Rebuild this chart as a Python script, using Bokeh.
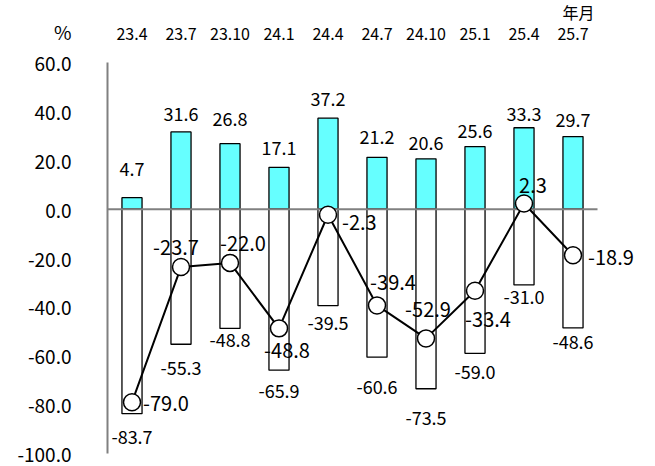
from bokeh.plotting import figure
from bokeh.models import Range1d, FixedTicker, LinearAxis
from bokeh.core.properties import value
from bokeh.embed import file_html
from bokeh.resources import INLINE

# ---- data ----
categories = ["23.4", "23.7", "23.10", "24.1", "24.4", "24.7", "24.10", "25.1", "25.4", "25.7"]
positive = [4.7, 31.6, 26.8, 17.1, 37.2, 21.2, 20.6, 25.6, 33.3, 29.7]
negative = [-83.7, -55.3, -48.8, -65.9, -39.5, -60.6, -73.5, -59.0, -31.0, -48.6]
net = [-79.0, -23.7, -22.0, -48.8, -2.3, -39.4, -52.9, -33.4, 2.3, -18.9]
y_ticks = [-100, -80, -60, -40, -20, 0, 20, 40, 60]
unit_label = "%"
period_label = "年月"

# ---- label placement (screen pixels, + = down / right) ----
pos_gap = [29, 18, 25, 19, 19, 20, 16, 16, 14, 17]      # above bar top
neg_gap = [23, 24, 12, 21, 17, 30, 29, 19, 12, 14]      # below bar bottom
net_dx = [11, -5, 13, 8, 14, 16, 2, 13, 9, 15]
net_dy = [1, -20, -19, 22, 8, -23, -29, 29, -18, 2]
net_align = ["left", "center", "center", "center", "left", "center", "center", "center", "center", "left"]

FONT = "Noto Sans CJK JP"
W, H = 655, 466
B_LEFT = 107
Y0, Y1 = -100, 60
TOP_PX = 62                      # canvas px where y = Y1 sits
AXIS_PX = 391                    # px from Y1 to Y0
SY = AXIS_PX / (Y1 - Y0)         # px per unit (y)
SX = 49                          # px per category
CAT_ROW_PX = 29                  # category row distance above y = Y1
UNIT_ROW_PX = 31                 # unit label distance above y = Y1

n = len(categories)
xs = list(range(n))

x_start = -0.5
x_end = x_start + (W - B_LEFT) / SX
y_top = Y1 + TOP_PX / SY
y_bot = Y0 - (H - TOP_PX - AXIS_PX) / SY

p = figure(width=W, height=H, output_backend="svg", toolbar_location=None,
           x_range=Range1d(x_start, x_end), y_range=Range1d(y_bot, y_top),
           x_axis_location=None,
           min_border_left=B_LEFT, min_border_right=0,
           min_border_top=0, min_border_bottom=0)
p.outline_line_color = None
p.grid.visible = False
p.background_fill_color = "white"
p.border_fill_color = "white"

# axis line (adjacent to frame), limited to the value range
ya = p.yaxis[0]
ya.ticker = FixedTicker(ticks=[])
ya.bounds = (Y0, Y1)
ya.axis_line_color = "#808080"
ya.axis_line_width = 2
ya.major_tick_line_color = None
ya.minor_tick_line_color = None
ya.major_label_standoff = 0
ya.major_label_text_font_size = "0px"

# tick labels axis (outer), including the unit label
hdr_y = round(Y1 + UNIT_ROW_PX / SY, 1)
lab_axis = LinearAxis(ticker=FixedTicker(ticks=y_ticks + [hdr_y]))
lab_axis.major_label_overrides = {**{t: f"{t:.1f}" for t in y_ticks}, hdr_y: unit_label}
lab_axis.axis_line_color = None
lab_axis.major_tick_line_color = None
lab_axis.minor_tick_line_color = None
lab_axis.major_label_text_font = FONT
lab_axis.major_label_text_font_size = "19px"
lab_axis.major_label_text_color = "black"
lab_axis.major_label_standoff = 30
p.add_layout(lab_axis, "left")

# bars
p.vbar(x=xs, top=positive, bottom=0, width=0.41, fill_color="#66FFFF",
       line_color="black", line_width=1.3)
p.vbar(x=xs, top=0, bottom=negative, width=0.41, fill_color="white",
       line_color="black", line_width=1.3)

# zero line across the category span
p.segment(x0=[xs[0] - 0.5], x1=[xs[-1] + 0.5], y0=[0], y1=[0],
          line_color="#808080", line_width=2)

# net line
p.line(xs, net, line_color="black", line_width=2)
p.scatter(xs, net, size=17, fill_color="white", line_color="black", line_width=1.5)

# category header row
p.text(x=xs, y=[Y1 + CAT_ROW_PX / SY] * n, text=categories, text_align="center",
       text_baseline="middle", text_font=value(FONT), text_font_size="16px",
       text_color="black")
p.text(x=[x_start + 471 / SX], y=[y_top - 11 / SY], text=[period_label],
       text_align="center", text_baseline="middle", text_font=value(FONT),
       text_font_size="16px", text_color="black")

# bar value labels
p.text(x=xs, y=[v + g / SY for v, g in zip(positive, pos_gap)],
       text=[f"{v:.1f}" for v in positive], text_align="center",
       text_baseline="middle", text_font=value(FONT), text_font_size="18px",
       text_color="black")
p.text(x=xs, y=[v - g / SY for v, g in zip(negative, neg_gap)],
       text=[f"{v:.1f}" for v in negative], text_align="center",
       text_baseline="middle", text_font=value(FONT), text_font_size="18px",
       text_color="black")

# net value labels
for align in ("left", "center"):
    idx = [i for i in xs if net_align[i] == align]
    p.text(x=[i + net_dx[i] / SX for i in idx],
           y=[net[i] - net_dy[i] / SY for i in idx],
           text=[f"{net[i]:.1f}" for i in idx], text_align=align,
           text_baseline="middle", text_font=value(FONT), text_font_size="20px",
           text_color="black")

open("out.html", "w").write(file_html(p, INLINE))
